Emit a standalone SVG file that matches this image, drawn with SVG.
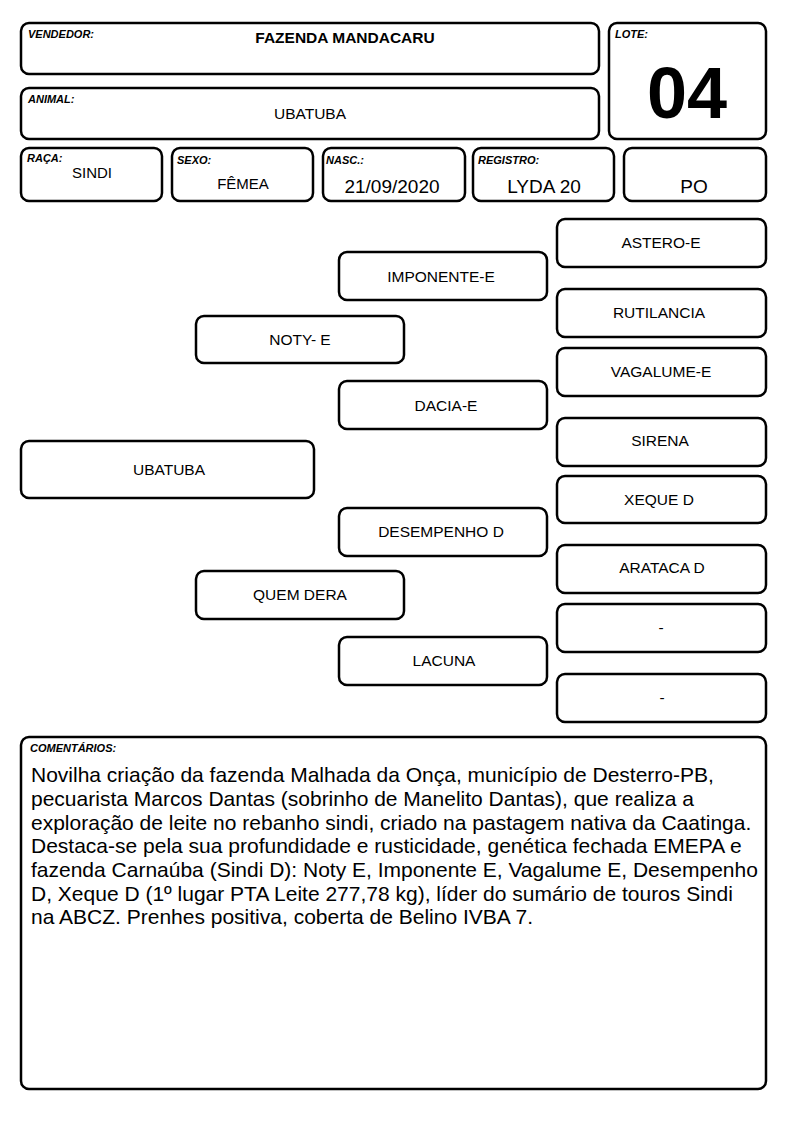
<svg xmlns="http://www.w3.org/2000/svg" width="794" height="1123" viewBox="0 0 794 1123">
<style>
.b{fill:#fff;stroke:#000;stroke-width:2.5}
.l{font-family:"Liberation Sans",Arial,sans-serif;font-size:11px;font-weight:bold;font-style:italic}
.t{font-family:"Liberation Sans",Arial,sans-serif;font-size:15.5px;text-anchor:middle}
.s{font-family:"Liberation Sans",Arial,sans-serif;font-size:15px;text-anchor:middle}
.v{font-family:"Liberation Sans",Arial,sans-serif;font-size:19px;text-anchor:middle}
.c{font-family:"Liberation Sans",Arial,sans-serif;font-size:21px}
</style>
<rect width="794" height="1123" fill="#fff"/>
<g id="vendedor"><rect class="b" x="21" y="23" width="578" height="51" rx="8"/><text class="l" x="28" y="38">VENDEDOR:</text><text class="t" x="345" y="43" font-weight="bold" font-size="16">FAZENDA MANDACARU</text></g>
<g id="animal"><rect class="b" x="21" y="88" width="578" height="51" rx="8"/><text class="l" x="28" y="103">ANIMAL:</text><text class="t" x="310" y="119" font-size="16">UBATUBA</text></g>
<g id="lote"><rect class="b" x="609" y="23" width="157" height="116" rx="8"/><text class="l" x="615" y="38">LOTE:</text><text x="687" y="118" text-anchor="middle" font-family="Liberation Sans,Arial,sans-serif" font-size="72" font-weight="bold">04</text></g>
<g id="raca"><rect class="b" x="21" y="148" width="141" height="53" rx="8"/><text class="l" x="27" y="162">RAÇA:</text><text class="s" x="92" y="178">SINDI</text></g>
<g id="sexo"><rect class="b" x="172" y="148" width="141" height="53" rx="8"/><text class="l" x="177" y="164">SEXO:</text><text class="s" x="243" y="189">FÊMEA</text></g>
<g id="nasc"><rect class="b" x="323" y="148" width="142" height="53" rx="8"/><text class="l" x="326" y="164">NASC.:</text><text class="v" x="392" y="193">21/09/2020</text></g>
<g id="registro"><rect class="b" x="473" y="148" width="141" height="53" rx="8"/><text class="l" x="478" y="164">REGISTRO:</text><text class="v" x="544" y="193">LYDA 20</text></g>
<g id="po"><rect class="b" x="624" y="148" width="142" height="53" rx="8"/><text class="v" x="694" y="193">PO</text></g>
<g id="connectors"></g>
<g id="n-ubatuba"><rect class="b" x="21" y="441" width="293" height="57" rx="8"/><text class="t" x="169" y="475">UBATUBA</text></g>
<g id="n-noty"><rect class="b" x="196" y="316" width="208" height="47" rx="8"/><text class="t" x="300" y="345">NOTY- E</text></g>
<g id="n-quemdera"><rect class="b" x="196" y="571" width="208" height="48" rx="8"/><text class="t" x="300" y="600">QUEM DERA</text></g>
<g id="n-imponente"><rect class="b" x="339" y="252" width="208" height="48" rx="8"/><text class="t" x="441" y="282">IMPONENTE-E</text></g>
<g id="n-dacia"><rect class="b" x="339" y="381" width="208" height="48" rx="8"/><text class="t" x="446" y="411">DACIA-E</text></g>
<g id="n-desempenho"><rect class="b" x="339" y="508" width="208" height="48" rx="8"/><text class="t" x="441" y="537">DESEMPENHO D</text></g>
<g id="n-lacuna"><rect class="b" x="339" y="637" width="208" height="48" rx="8"/><text class="t" x="444" y="666">LACUNA</text></g>
<g id="n-astero"><rect class="b" x="557" y="219" width="209" height="48" rx="8"/><text class="t" x="661" y="248">ASTERO-E</text></g>
<g id="n-rutilancia"><rect class="b" x="557" y="289" width="209" height="48" rx="8"/><text class="t" x="659" y="318">RUTILANCIA</text></g>
<g id="n-vagalume"><rect class="b" x="557" y="348" width="209" height="48" rx="8"/><text class="t" x="661" y="377">VAGALUME-E</text></g>
<g id="n-sirena"><rect class="b" x="557" y="418" width="209" height="48" rx="8"/><text class="t" x="660" y="446">SIRENA</text></g>
<g id="n-xeque"><rect class="b" x="557" y="476" width="209" height="47" rx="8"/><text class="t" x="659" y="505">XEQUE D</text></g>
<g id="n-arataca"><rect class="b" x="557" y="545" width="209" height="48" rx="8"/><text class="t" x="662" y="573">ARATACA D</text></g>
<g id="n-dash1"><rect class="b" x="557" y="604" width="209" height="48" rx="8"/><text class="t" x="661" y="633">-</text></g>
<g id="n-dash2"><rect class="b" x="557" y="674" width="209" height="48" rx="8"/><text class="t" x="662" y="703">-</text></g>
<g id="comentarios"><rect class="b" x="21" y="737" width="745" height="352" rx="8"/><text class="l" x="30" y="752">COMENTÁRIOS:</text>
<text class="c" x="31" y="782">Novilha criação da fazenda Malhada da Onça, município de Desterro-PB,</text>
<text class="c" x="31" y="806">pecuarista Marcos Dantas (sobrinho de Manelito Dantas), que realiza a</text>
<text class="c" x="31" y="829.5">exploração de leite no rebanho sindi, criado na pastagem nativa da Caatinga.</text>
<text class="c" x="31" y="853">Destaca-se pela sua profundidade e rusticidade, genética fechada EMEPA e</text>
<text class="c" x="31" y="877">fazenda Carnaúba (Sindi D): Noty E, Imponente E, Vagalume E, Desempenho</text>
<text class="c" x="31" y="900.5">D, Xeque D (1º lugar PTA Leite 277,78 kg), líder do sumário de touros Sindi</text>
<text class="c" x="31" y="924">na ABCZ. Prenhes positiva, coberta de Belino IVBA 7.</text>
</g>
</svg>
